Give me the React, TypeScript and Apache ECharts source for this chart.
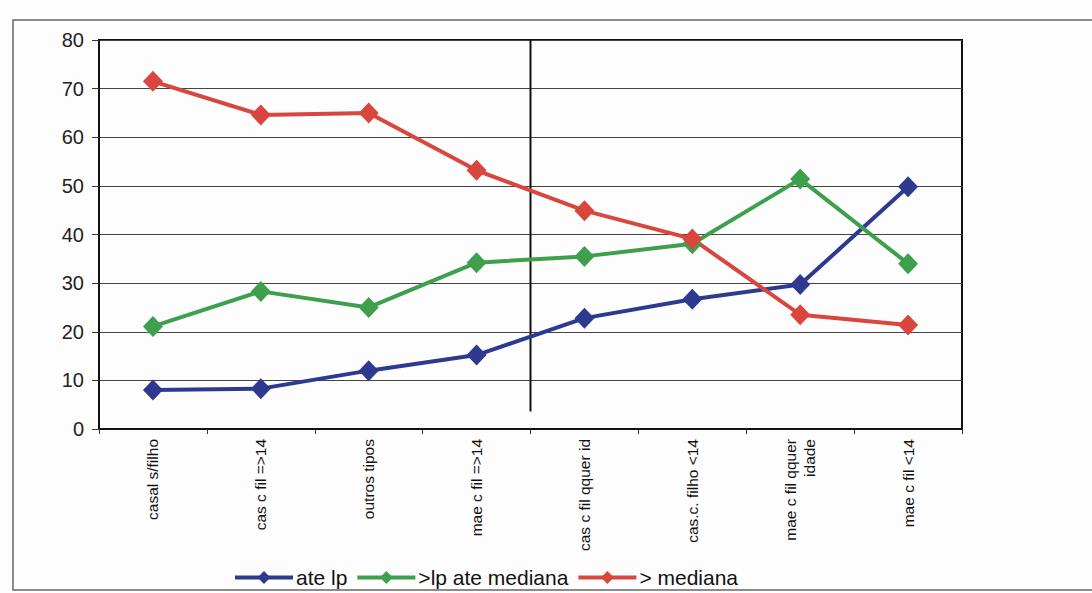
import React, { useEffect, useRef } from "react";
import * as echarts from "echarts";

const categories = [
  "casal s/filho",
  "cas c fil =>14",
  "outros tipos",
  "mae c fil =>14",
  "cas c fil qquer id",
  "cas.c. filho <14",
  "mae c fil qquer\nidade",
  "mae c fil <14",
];
const ateLp = [8, 8.3, 12, 15.2, 22.8, 26.7, 29.7, 49.8];
const lpAteMediana = [21.1, 28.3, 25, 34.2, 35.5, 38.1, 51.4, 34];
const acimaMediana = [71.5, 64.6, 65, 53.2, 44.9, 39.1, 23.5, 21.4];
const seriesNames = ["ate lp", ">lp ate mediana", "> mediana"];
const yTicks = [0, 10, 20, 30, 40, 50, 60, 70, 80];
const dividerX = 4;
const dividerY = [3.6, 80];

const colors = ["#2d3a8f", "#3e9f4c", "#d8463e"];

export default function App() {
  const ref = useRef<HTMLDivElement>(null);
  useEffect(() => {
    if (!ref.current) return;
    const chart = echarts.init(ref.current, null, { renderer: "svg" });
    const font = "'Liberation Sans', Arial, sans-serif";
    const mk = (name: string, data: number[], color: string) => ({
      name,
      type: "line",
      data,
      xAxisIndex: 0,
      yAxisIndex: 0,
      symbol: "diamond",
      symbolSize: [20, 21],
      lineStyle: { color, width: 4 },
      itemStyle: { color },
      z: 5,
    });
    chart.setOption({
      animation: false,
      backgroundColor: "#fdfdfd",
      textStyle: { fontFamily: font },
      graphic: [
        {
          type: "rect",
          shape: { x: 13, y: 20, width: 1100, height: 570 },
          style: { fill: "none", stroke: "#666", lineWidth: 1.5 },
          silent: true,
          z: -1,
        },
      ],
      grid: {
        left: 99,
        right: 130,
        top: 40,
        bottom: 164,
        show: true,
        borderColor: "#111",
        borderWidth: 2,
      },
      legend: {
        left: 228,
        top: 562,
        itemWidth: 58,
        itemHeight: 16,
        itemGap: 8,
        lineStyle: { width: 4 },
        textStyle: { fontSize: 21, color: "#111", fontFamily: font, padding: [0, 0, 0, -2] },
        data: seriesNames,
      },
      xAxis: [
        {
          type: "category",
          data: categories,
          boundaryGap: true,
          axisLine: { lineStyle: { color: "#111", width: 2 } },
          axisTick: { show: true, length: 5, lineStyle: { color: "#333" }, interval: 0 },
          axisLabel: {
            rotate: 90,
            interval: 0,
            fontSize: 15.5,
            color: "#111",
            margin: 10,
            lineHeight: 19,
            align: "right",
            fontFamily: font,
          },
          splitLine: { show: false },
        },
        {
          type: "value",
          min: 0,
          max: 8,
          show: false,
          position: "bottom",
        },
      ],
      yAxis: {
        type: "value",
        min: yTicks[0],
        max: yTicks[yTicks.length - 1],
        interval: 10,
        axisLine: { show: true, lineStyle: { color: "#111", width: 2 } },
        axisTick: { show: true, length: 7, lineStyle: { color: "#333" } },
        axisLabel: { fontSize: 20, color: "#222", margin: 15, fontFamily: font },
        splitLine: { lineStyle: { color: "#444", width: 1 } },
      },
      series: [
        mk(seriesNames[0], ateLp, colors[0]),
        mk(seriesNames[1], lpAteMediana, colors[1]),
        mk(seriesNames[2], acimaMediana, colors[2]),
        {
          name: "divider",
          type: "line",
          xAxisIndex: 1,
          yAxisIndex: 0,
          data: [
            [dividerX, dividerY[0]],
            [dividerX, dividerY[1]],
          ],
          symbol: "none",
          silent: true,
          lineStyle: { color: "#111", width: 2 },
          z: 3,
        },
      ],
    });
    return () => chart.dispose();
  }, []);
  return (
    <div
      ref={ref}
      style={{ position: "fixed", left: 0, top: 0, width: 1092, height: 593 }}
    />
  );
}
